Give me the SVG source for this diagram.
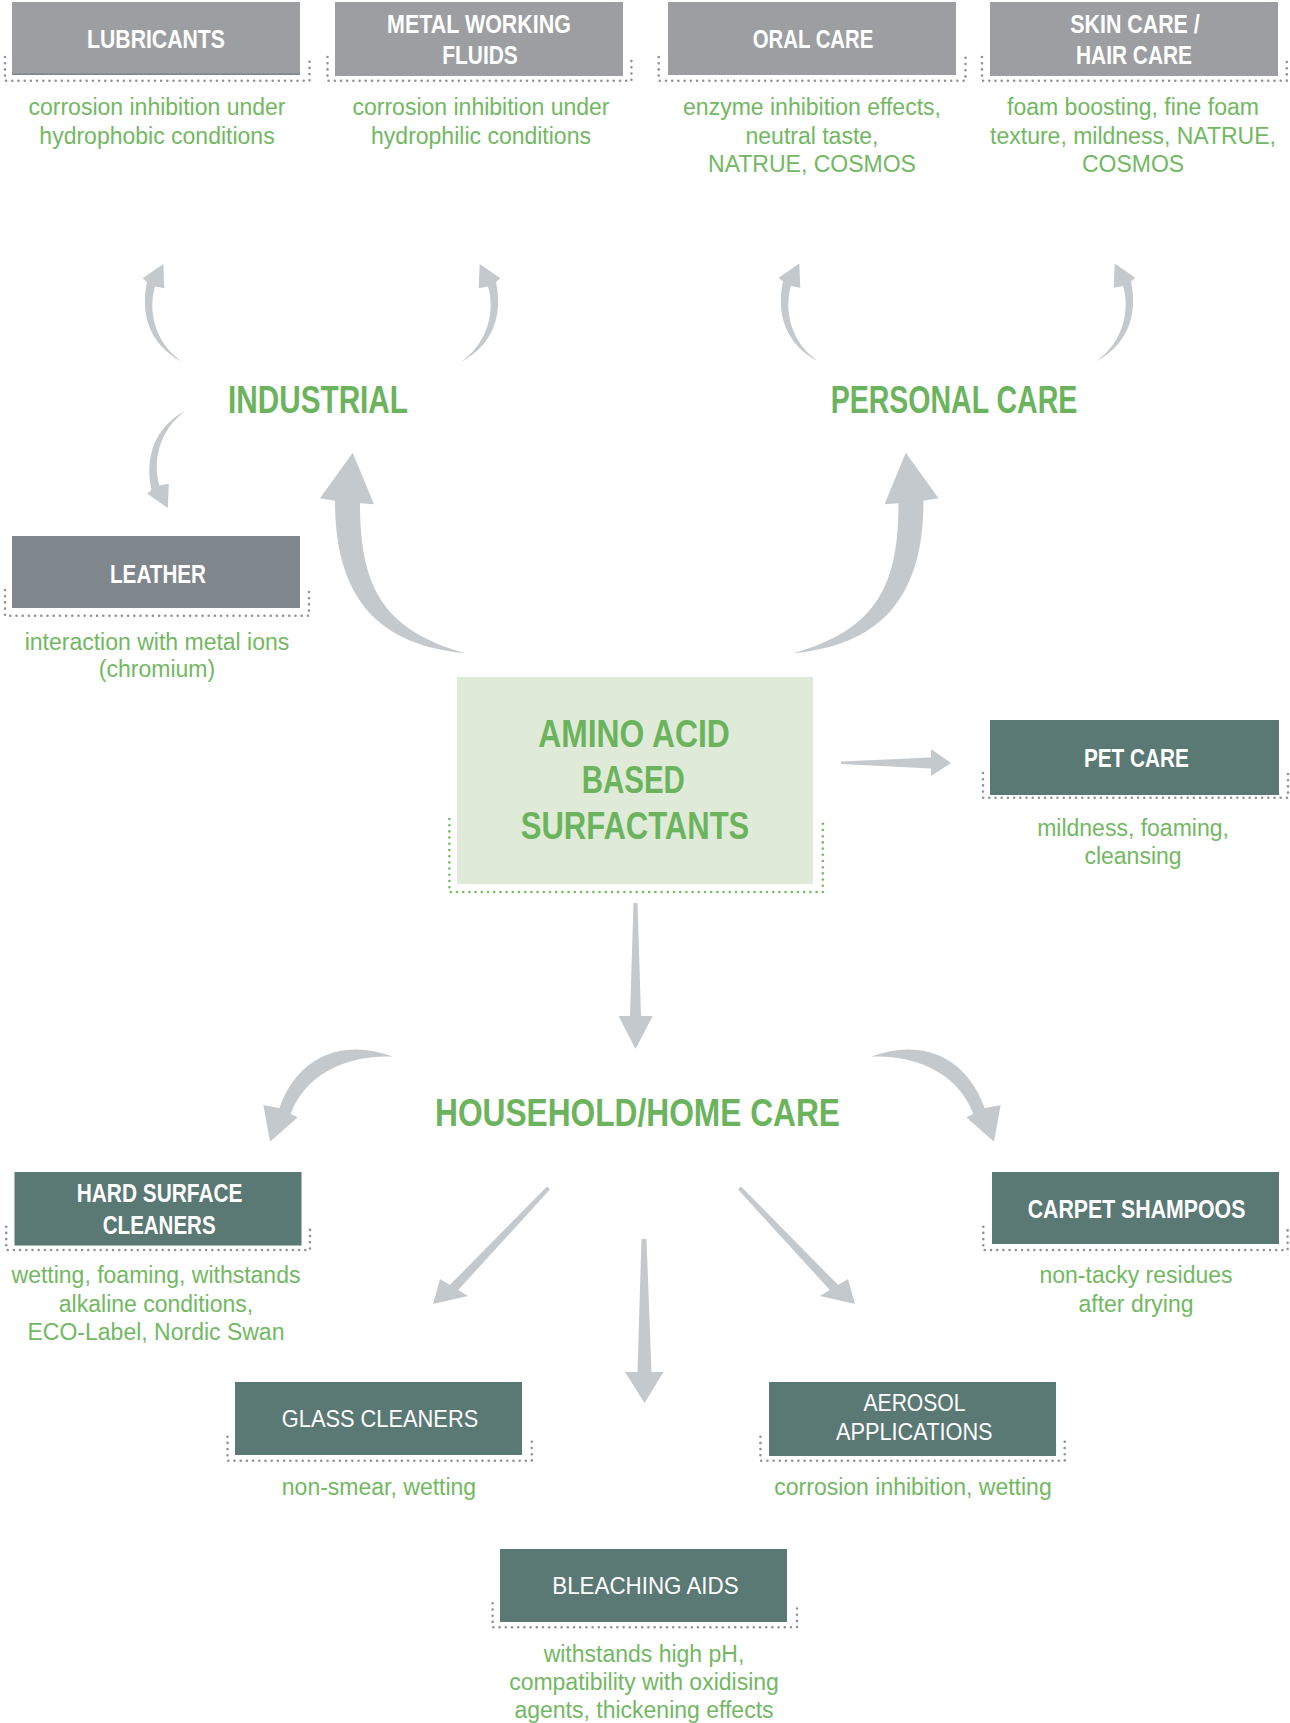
<svg xmlns="http://www.w3.org/2000/svg" xmlns:xlink="http://www.w3.org/1999/xlink" width="1290" height="1723" viewBox="0 0 1290 1723">
<style>
.bg{fill:#ffffff}
.gray{fill:#9d9ea2}
.leather{fill:#80878c}
.teal{fill:#5a7874}
.amino{fill:#dfebd8}
.arrow{fill:#c4c9cd}
.dots{fill:none;stroke:#8f9296;stroke-width:2.6;stroke-linecap:round;stroke-dasharray:0 6.2}
.dotsg{fill:none;stroke:#74bb63;stroke-width:2.6;stroke-linecap:round;stroke-dasharray:0 6.2}
.t{font-family:"Liberation Sans",Arial,sans-serif;font-weight:bold;font-size:26.5px;fill:#ffffff;text-anchor:middle}
.tr{font-family:"Liberation Sans",Arial,sans-serif;font-weight:normal;font-size:24px;fill:#ffffff;text-anchor:middle}
.big{font-family:"Liberation Sans",Arial,sans-serif;font-weight:bold;font-size:38.5px;fill:#6bb35c;text-anchor:middle}
.d{font-family:"Liberation Sans",Arial,sans-serif;font-size:23px;fill:#72b862;text-anchor:middle}
</style>
<defs>
<path id="arcSmall" d="M 181.7,361.7 C 150,345 140,315 147,282 L 142.7,278.3 L 163.3,264 L 164.3,288.3 L 155,286.5 C 148,310 154,342 181.7,361.7 Z"/>
<path id="arcBig" d="M 465,653.3 C 380,645 335,600 335,500.7 L 320,498.3 L 352.7,452.7 L 374,504.3 L 360,503.3 C 360,590 385,630 465,653.3 Z"/>
<path id="arcHouse" d="M 393.3,1056.7 C 350,1040 300,1050 279.3,1108.3 L 263.3,1105 L 270,1141.7 L 297.7,1117.3 L 290.7,1114 C 305,1075 345,1055 393.3,1056.7 Z"/>
<path id="diag" d="M 547,1186.5 L 550,1189.5 L 458.2,1290 L 468,1296 L 433,1304 L 440,1279 L 449.8,1285 Z"/>
</defs>
<rect class="bg" x="0" y="0" width="1290" height="1723"/>

<g id="connectors">
<use xlink:href="#arcSmall" class="arrow"/>
<use xlink:href="#arcSmall" class="arrow" transform="translate(643,0) scale(-1,1)"/>
<use xlink:href="#arcSmall" class="arrow" transform="translate(636,-0.5)"/>
<use xlink:href="#arcSmall" class="arrow" transform="translate(1278,-0.5) scale(-1,1)"/>
<use xlink:href="#arcSmall" class="arrow" transform="translate(4.5,772) scale(1,-1)"/>
<use xlink:href="#arcBig" class="arrow"/>
<use xlink:href="#arcBig" class="arrow" transform="translate(1258.5,0) scale(-1,1)"/>
<path class="arrow" d="M 841,761.5 L 931,757.5 L 931,749 L 951,763 L 931,776 L 931,768.5 L 841,764 Z"/>
<path class="arrow" d="M 633.5,903 L 637.5,903 L 641,1016 L 652.7,1016 L 635.5,1049 L 618.6,1016 L 630,1016 Z"/>
<use xlink:href="#arcHouse" class="arrow"/>
<use xlink:href="#arcHouse" class="arrow" transform="translate(1264,0) scale(-1,1)"/>
<use xlink:href="#diag" class="arrow"/>
<use xlink:href="#diag" class="arrow" transform="translate(1288,0) scale(-1,1)"/>
<path class="arrow" d="M 641.5,1239 L 646.5,1239 L 651.5,1372 L 663.5,1372 L 644.5,1403 L 625,1372 L 637.5,1372 Z"/>
</g>

<g id="node-lubricants">
<path class="dots" d="M 5,57 V 80.7 H 309.5 V 57"/>
<rect class="gray" x="12" y="2" width="288" height="73"/>
<rect x="12" y="73.5" width="288" height="1.5" fill="#7f868b"/>
<text class="t" x="156" y="48.3" textLength="138" lengthAdjust="spacingAndGlyphs">LUBRICANTS</text>
<text class="d" x="157" y="115">corrosion inhibition under</text>
<text class="d" x="157" y="143.5">hydrophobic conditions</text>
</g>

<g id="node-metal">
<path class="dots" d="M 327.5,57 V 80.7 H 631.4 V 57"/>
<rect class="gray" x="335" y="2" width="288" height="74"/>
<text class="t" x="479" y="33.3" textLength="184" lengthAdjust="spacingAndGlyphs">METAL WORKING</text>
<text class="t" x="480" y="64.3" textLength="75.5" lengthAdjust="spacingAndGlyphs">FLUIDS</text>
<text class="d" x="481" y="115">corrosion inhibition under</text>
<text class="d" x="481" y="143.5">hydrophilic conditions</text>
</g>

<g id="node-oral">
<path class="dots" d="M 658.7,57 V 80.7 H 965.5 V 57"/>
<rect class="gray" x="668" y="2" width="288" height="73"/>
<text class="t" x="813" y="48.3" textLength="120.6" lengthAdjust="spacingAndGlyphs">ORAL CARE</text>
<text class="d" x="812" y="115">enzyme inhibition effects,</text>
<text class="d" x="812" y="143.5">neutral taste,</text>
<text class="d" x="812" y="172">NATRUE, COSMOS</text>
</g>

<g id="node-skin">
<path class="dots" d="M 982,57 V 80.7 H 1286.8 V 57"/>
<rect class="gray" x="990" y="2" width="288" height="74"/>
<text class="t" x="1135" y="33.3" textLength="129.4" lengthAdjust="spacingAndGlyphs">SKIN CARE /</text>
<text class="t" x="1134" y="64.3" textLength="116" lengthAdjust="spacingAndGlyphs">HAIR CARE</text>
<text class="d" x="1133" y="115">foam boosting, fine foam</text>
<text class="d" x="1133" y="143.5">texture, mildness, NATRUE,</text>
<text class="d" x="1133" y="172">COSMOS</text>
</g>

<g id="label-industrial">
<text class="big" x="318" y="412.7" textLength="180" lengthAdjust="spacingAndGlyphs">INDUSTRIAL</text>
</g>

<g id="label-personal">
<text class="big" x="954" y="412.7" textLength="246.7" lengthAdjust="spacingAndGlyphs">PERSONAL CARE</text>
</g>

<g id="node-leather">
<path class="dots" d="M 5,590 V 615.7 H 309 V 590"/>
<rect class="leather" x="12" y="536" width="288" height="72"/>
<text class="t" x="158" y="583.3" textLength="96" lengthAdjust="spacingAndGlyphs">LEATHER</text>
<text class="d" x="157" y="650">interaction with metal ions</text>
<text class="d" x="157" y="677">(chromium)</text>
</g>

<g id="node-amino">
<path class="dotsg" d="M 449.4,819 V 892 H 822.8 V 819"/>
<rect class="amino" x="457" y="677" width="356" height="207"/>
<text class="big" x="634" y="746.7" font-size="37.5" textLength="191.7" lengthAdjust="spacingAndGlyphs">AMINO ACID</text>
<text class="big" x="633.3" y="792.7" font-size="37.5" textLength="103.3" lengthAdjust="spacingAndGlyphs">BASED</text>
<text class="big" x="635" y="838.7" font-size="37.5" textLength="228.6" lengthAdjust="spacingAndGlyphs">SURFACTANTS</text>
</g>

<g id="node-pet">
<path class="dots" d="M 983,773 V 797.7 H 1288 V 773"/>
<rect class="teal" x="990" y="720" width="289" height="75"/>
<text class="t" x="1136.4" y="767.3" textLength="105" lengthAdjust="spacingAndGlyphs">PET CARE</text>
<text class="d" x="1133" y="836">mildness, foaming,</text>
<text class="d" x="1133" y="864">cleansing</text>
</g>

<g id="label-household">
<text class="big" x="637.5" y="1126" font-size="41" textLength="405" lengthAdjust="spacingAndGlyphs">HOUSEHOLD/HOME CARE</text>
</g>

<g id="node-hard">
<path class="dots" d="M 6.2,1226.7 V 1250 H 310 V 1226.7"/>
<rect class="teal" x="14.5" y="1172" width="287" height="73.5"/>
<text class="t" x="159.6" y="1201.7" textLength="165.8" lengthAdjust="spacingAndGlyphs">HARD SURFACE</text>
<text class="t" x="159.2" y="1234.3" textLength="112.8" lengthAdjust="spacingAndGlyphs">CLEANERS</text>
<text class="d" x="156" y="1283.3">wetting, foaming, withstands</text>
<text class="d" x="156" y="1311.7">alkaline conditions,</text>
<text class="d" x="156" y="1340">ECO-Label, Nordic Swan</text>
</g>

<g id="node-carpet">
<path class="dots" d="M 983.3,1226.7 V 1250 H 1287.6 V 1226.7"/>
<rect class="teal" x="992" y="1172" width="287" height="72"/>
<text class="t" x="1136.5" y="1218.3" font-size="24.5" textLength="217.7" lengthAdjust="spacingAndGlyphs">CARPET SHAMPOOS</text>
<text class="d" x="1136" y="1283.3">non-tacky residues</text>
<text class="d" x="1136" y="1311.7">after drying</text>
</g>

<g id="node-glass">
<path class="dots" d="M 227.5,1436.7 V 1460.7 H 531.8 V 1436.7"/>
<rect class="teal" x="235" y="1382" width="287" height="73"/>
<text class="tr" x="380" y="1426.7" textLength="196.4" lengthAdjust="spacingAndGlyphs">GLASS CLEANERS</text>
<text class="d" x="379" y="1495">non-smear, wetting</text>
</g>

<g id="node-aerosol">
<path class="dots" d="M 760.4,1436.7 V 1460.7 H 1064.7 V 1436.7"/>
<rect class="teal" x="769" y="1382" width="287" height="74"/>
<text class="tr" x="914.5" y="1411" textLength="102" lengthAdjust="spacingAndGlyphs">AEROSOL</text>
<text class="tr" x="914.3" y="1440" textLength="156.6" lengthAdjust="spacingAndGlyphs">APPLICATIONS</text>
<text class="d" x="913" y="1495">corrosion inhibition, wetting</text>
</g>

<g id="node-bleaching">
<path class="dots" d="M 492.6,1603.3 V 1627.3 H 797 V 1603.3"/>
<rect class="teal" x="500" y="1549" width="287" height="73"/>
<text class="tr" x="645.4" y="1594.3" textLength="186.3" lengthAdjust="spacingAndGlyphs">BLEACHING AIDS</text>
<text class="d" x="644" y="1661.7">withstands high pH,</text>
<text class="d" x="644" y="1690">compatibility with oxidising</text>
<text class="d" x="644" y="1717.7">agents, thickening effects</text>
</g>
</svg>
